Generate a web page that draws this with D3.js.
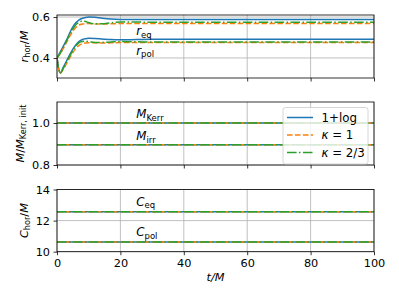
<!DOCTYPE html>
<html><head><meta charset="utf-8">
<script src="https://cdn.jsdelivr.net/npm/d3@7"></script>
<style>body{margin:0;background:#fff}svg{display:block}text{font-family:"DejaVu Sans",sans-serif}</style>
</head><body><svg id="c" width="399" height="299"></svg>
<script>
// ---- data ----
const tHor = [0,1,2,3,4,5,6,7,8,9,10,12,14,17,20,25,30,40,50,60,70,80,90,100];
const rEqLog  = [0.400,0.428,0.458,0.487,0.522,0.552,0.573,0.586,0.594,0.598,0.600,0.599,0.595,0.590,0.588,0.588,0.588,0.588,0.588,0.588,0.588,0.588,0.588,0.588];
const rEqK1   = [0.400,0.420,0.447,0.476,0.505,0.530,0.550,0.561,0.566,0.568,0.568,0.566,0.566,0.567,0.568,0.568,0.568,0.568,0.568,0.568,0.568,0.568,0.568,0.568];
const rEqK23  = [0.400,0.422,0.452,0.482,0.513,0.541,0.563,0.576,0.580,0.578,0.573,0.567,0.567,0.572,0.576,0.576,0.574,0.574,0.574,0.574,0.574,0.574,0.574,0.574];
const rPolLog = [0.400,0.326,0.355,0.385,0.415,0.443,0.465,0.481,0.490,0.494,0.496,0.495,0.493,0.490,0.489,0.490,0.491,0.491,0.491,0.491,0.491,0.491,0.491,0.491];
const rPolK1  = [0.400,0.324,0.345,0.372,0.400,0.426,0.448,0.462,0.470,0.473,0.474,0.474,0.473,0.474,0.475,0.475,0.475,0.475,0.475,0.475,0.475,0.475,0.475,0.475];
const rPolK23 = [0.400,0.325,0.350,0.378,0.408,0.437,0.460,0.475,0.481,0.482,0.480,0.476,0.476,0.478,0.480,0.479,0.478,0.478,0.478,0.478,0.478,0.478,0.478,0.478];
const tConst = [0,100];
const mKerr = [1.0,1.0];
const mIrr  = [0.897,0.897];
const cEq   = [12.566,12.566];
const cPol  = [10.63,10.63];
const xTicks = [0,20,40,60,80,100];
const yTicks1 = [0.4,0.6];
const yTicks2 = [0.8,1.0];
const yTicks3 = [10,12,14];
const legendLabels = ["1+log","κ = 1","κ = 2/3"];

// ---- styles ----
const colors = ["#1f77b4","#ff7f0e","#2ca02c"];
const dashes = [null,"5.55,2.4","9.6,2.4,1.5,2.4"];
const FS = 11.3;

const svg = d3.select("#c");
svg.append("rect").attr("width",399).attr("height",299).attr("fill","#fff");

const x = d3.scaleLinear().domain([0,100]).range([57,374]);
const panels = [
  {y:d3.scaleLinear().domain([0.302,0.61]).range([78,15]), ticks:yTicks1, fmt:d3.format(".1f"),
   series:[[tHor,[rEqLog,rEqK1,rEqK23]],[tHor,[rPolLog,rPolK1,rPolK23]]]},
  {y:d3.scaleLinear().domain([0.8,1.1]).range([165,102]), ticks:yTicks2, fmt:d3.format(".1f"),
   series:[[tConst,[mKerr,mKerr,mKerr]],[tConst,[mIrr,mIrr,mIrr]]]},
  {y:d3.scaleLinear().domain([10,14]).range([251.7,189.5]), ticks:yTicks3, fmt:d3.format("d"),
   series:[[tConst,[cEq,cEq,cEq]],[tConst,[cPol,cPol,cPol]]]}
];

panels.forEach((p,pi)=>{
  const g = svg.append("g");
  const [y0,y1] = p.y.range();
  g.selectAll(".gx").data(xTicks).join("line")
    .attr("x1",d=>x(d)).attr("x2",d=>x(d)).attr("y1",y0).attr("y2",y1)
    .attr("stroke","#b0b0b0").attr("stroke-width",0.8);
  g.selectAll(".gy").data(p.ticks).join("line")
    .attr("x1",57).attr("x2",374).attr("y1",d=>p.y(d)).attr("y2",d=>p.y(d))
    .attr("stroke","#b0b0b0").attr("stroke-width",0.8);
  const clipId = "clip"+pi;
  svg.append("clipPath").attr("id",clipId).append("rect")
    .attr("x",57).attr("y",y1).attr("width",317).attr("height",y0-y1);
  const lg = g.append("g").attr("clip-path",`url(#${clipId})`);
  for (let k=0;k<3;k++){
    p.series.forEach(([ts,vals])=>{
      const line = d3.line().x((d,i)=>x(ts[i])).y(d=>p.y(d)).curve(d3.curveMonotoneX);
      lg.append("path").attr("d",line(vals[k])).attr("fill","none")
        .attr("stroke",colors[k]).attr("stroke-width",1.5)
        .attr("stroke-dasharray",dashes[k]);
    });
  }
  const ax = d3.axisLeft(p.y).tickValues(p.ticks).tickFormat(p.fmt).tickSize(3.5).tickPadding(3.5);
  const ga = g.append("g").attr("transform","translate(57,0)").call(ax);
  const bx = d3.axisBottom(x).tickValues(xTicks).tickSize(3.5).tickPadding(3.5)
    .tickFormat(pi===2 ? d3.format("d") : "");
  const gb = g.append("g").attr("transform",`translate(0,${y0})`).call(bx);
  [ga,gb].forEach(a=>{
    a.select(".domain").remove();
    a.selectAll("line").attr("stroke","#000").attr("stroke-width",0.8);
    a.selectAll("text").attr("font-size",FS).attr("fill","#000").attr("font-family","DejaVu Sans");
  });
  g.append("rect").attr("x",57).attr("y",y1).attr("width",317).attr("height",y0-y1)
    .attr("fill","none").attr("stroke","#000").attr("stroke-width",0.8);
});

function lab(sel, main, sub, size){
  sel.append("tspan").attr("font-style","italic").text(main);
  sel.append("tspan").attr("font-size",size*0.72).attr("dy",size*0.22).text(sub);
}
const notes = [
  [0,0.512,"r","eq"],[0,0.415,"r","pol"],
  [1,1.022,"M","Kerr"],[1,0.919,"M","irr"],
  [2,12.95,"C","eq"],[2,11.01,"C","pol"]
];
notes.forEach(([pi,v,m,s])=>{
  const t = svg.append("text").attr("x",x(25)).attr("y",panels[pi].y(v)).attr("font-size",11.8);
  lab(t,m,s,11.8);
});

function ylab(xp, yc, parts){
  const t = svg.append("text").attr("transform",`translate(${xp},${yc}) rotate(-90)`)
    .attr("text-anchor","middle").attr("font-size",FS);
  parts.forEach(([txt,style])=>{
    const s = t.append("tspan").text(txt);
    if(style==="i") s.attr("font-style","italic");
    if(style==="sub") s.attr("font-size",8.2).attr("dy",2.4);
    if(style==="up") s.attr("dy",-2.4);
  });
}
ylab(27.5,46.5,[["r","i"],["hor","sub"],["/","up"],["M","i"]]);
ylab(23.5,133.5,[["M","i"],["/",""],["M","i"],["Kerr, init","sub"]]);
ylab(27.5,220.6,[["C","i"],["hor","sub"],["/","up"],["M","i"]]);

svg.append("text").attr("x",215.5).attr("y",281).attr("text-anchor","middle")
  .attr("font-size",FS).attr("font-style","italic").text("t/M");

const L = svg.append("g");
L.append("rect").attr("x",283).attr("y",107.5).attr("width",85).attr("height",56.5).attr("rx",2.5)
  .attr("fill","#fff").attr("fill-opacity",0.8).attr("stroke","#cccccc").attr("stroke-width",0.8);
const ly = [117.5,135,152.5];
legendLabels.forEach((lbl,k)=>{
  L.append("line").attr("x1",287).attr("x2",313).attr("y1",ly[k]).attr("y2",ly[k])
    .attr("stroke",colors[k]).attr("stroke-width",1.5).attr("stroke-dasharray",dashes[k]);
  const t = L.append("text").attr("x",321.5).attr("y",ly[k]+4.2).attr("font-size",11.8);
  if(k===0) t.text(lbl);
  else {
    const [a,...rest] = lbl.split(" ");
    t.append("tspan").attr("font-style","italic").text(a);
    t.append("tspan").text(" "+rest.join(" "));
  }
});
</script></body></html>
